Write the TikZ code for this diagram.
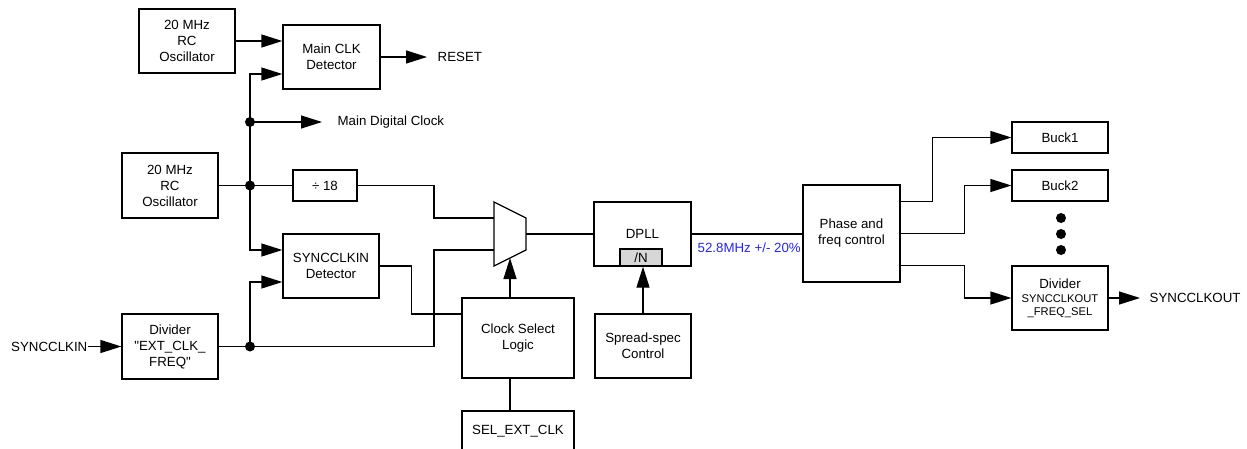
\documentclass[tikz,border=0pt]{standalone}
\usepackage{fontspec}
\setmainfont{Liberation Sans}
\setmonofont{Liberation Sans}
\usetikzlibrary{arrows.meta,calc}
\definecolor{lblue}{RGB}{35,35,255}
\definecolor{ngray}{RGB}{215,215,215}
\newcommand\fsn{\fontsize{13.3}{16}\selectfont}
\newcommand\fss{\fontsize{11.2}{12}\selectfont}
\newcommand\sq{{\ttfamily\symbol{34}}}
\begin{document}
\begin{tikzpicture}[x=1pt,y=-1pt,line width=1.3pt,
  box/.style={draw,line width=1.3pt,inner sep=0pt,align=center,font=\fsn},
  txt/.style={inner sep=0pt,font=\fsn},
  arr/.style={-{Triangle[length=21pt,width=13pt]}},
  jdot/.style={circle,fill,inner sep=0pt,minimum size=10pt}]
\useasboundingbox (0,0) rectangle (1247,449);
% boxes
\node[box,minimum width=96pt,minimum height=64pt] (osc1) at (187,41) {20 MHz\\RC\\Oscillator};
\node[box,minimum width=97pt,minimum height=64pt] (mcd) at (331.5,57) {Main CLK\\Detector};
\node[box,minimum width=96pt,minimum height=65pt] (osc2) at (170,185.5) {20 MHz\\RC\\Oscillator};
\node[box,minimum width=64pt,minimum height=31pt] (div18) at (325,185.5) {÷ 18};
\node[box,minimum width=96pt,minimum height=64pt] (sdet) at (331,266) {SYNCCLKIN\\Detector};
\node[box,minimum width=96pt,minimum height=65pt] (div1) at (170,346.5) {Divider\\\sq EXT\_CLK\_\\FREQ\sq};
\node[box,minimum width=112pt,minimum height=80pt] (csl) at (518,338) {Clock Select\\Logic};
\node[box,minimum width=112pt,minimum height=40pt] (sel) at (518,431) {SEL\_EXT\_CLK};
\node[box,minimum width=97pt,minimum height=64pt] (dpll) at (642.5,234) {DPLL};
\node[box,fill=ngray,minimum width=42pt,minimum height=17pt] (nbox) at (641,257.5) {/N};
\node[box,minimum width=96pt,minimum height=64pt] (ssc) at (643,346) {Spread-spec\\Control};
\node[box,minimum width=97pt,minimum height=97pt] (pfc) at (851.5,233.5) {Phase and\\freq control};
\node[box,minimum width=96pt,minimum height=31pt] (buck1) at (1060,137.5) {Buck1};
\node[box,minimum width=96pt,minimum height=31pt] (buck2) at (1060,185.5) {Buck2};
\node[box,minimum width=96pt,minimum height=64pt] (div2) at (1060,298) {Divider\\[-2pt]{\fss SYNCCLKOUT}\\[-3pt]{\fss \_FREQ\_SEL}};
% free texts
\node[txt,anchor=west] (reset) at (437,57) {RESET};
\node[txt,anchor=west] (mdc) at (337,122) {Main Digital Clock};
\node[txt,anchor=east] (sin) at (88,346.5) {SYNCCLKIN};
\node[txt,anchor=west] (sout) at (1149,298) {SYNCCLKOUT};
\node[txt,anchor=west,text=lblue] (flab) at (697,248) {52.8MHz +/- 20\%};
% mux
\draw (494,202) -- (526,218) -- (526,250) -- (494,266) -- cycle;
\coordinate (muxA) at (494,218);
\coordinate (muxB) at (494,250);
\coordinate (muxO) at (526,234);
\coordinate (muxS) at (510,258);
% junctions
\node[jdot] (j1) at (250,122) {};
\node[jdot] (j2) at (250,185.5) {};
\node[jdot] (j3) at (250,346.5) {};
% connectors
\draw[arr] (osc1.east) -- (mcd.west |- osc1.east);
\draw[arr] (mcd.east) -- ([xshift=-10pt]reset.west);
\draw (osc2.east) -- (div18.west);
\draw[arr] (j2.center) |- ($(mcd.west)+(0,17)$);
\draw[arr] (j1.center) -- ([xshift=-15pt]mdc.west);
\draw[arr] (j2.center) |- ($(sdet.west)+(0,-16)$);
\draw (div18.east) -| ($(muxA)+(-60,0)$) -- (muxA);
\draw[arr] (sin.east) -- (div1.west);
\draw (div1.east) -| ($(muxB)+(-60,0)$) -- (muxB);
\draw[arr] (j3.center) |- ($(sdet.west)+(0,16)$);
\draw (sdet.east) -- ++(32,0) |- ($(csl.west)+(0,-24)$);
\draw[arr] (csl.north -| muxS) -- (muxS);
\draw (sel.north -| muxS) -- (csl.south -| muxS);
\draw (muxO) -- (dpll.west |- muxO);
\draw[arr] (ssc.north) -- (ssc.north |- nbox.south);
\draw (dpll.east) -- (pfc.west |- dpll.east);
\draw[arr] ($(pfc.east)+(0,-32)$) -- ++(32,0) |- (buck1.west);
\draw[arr] (pfc.east) -- ++(64,0) |- (buck2.west);
\draw[arr] ($(pfc.east)+(0,32)$) -- ++(64,0) |- (div2.west);
\draw[arr] (div2.east) -- ([xshift=-9pt]sout.west);
% ellipsis dots
\node[jdot] (e1) at (1061,218) {};
\node[jdot] (e2) at (1061,234) {};
\node[jdot] (e3) at (1061,250) {};
\end{tikzpicture}
\end{document}
